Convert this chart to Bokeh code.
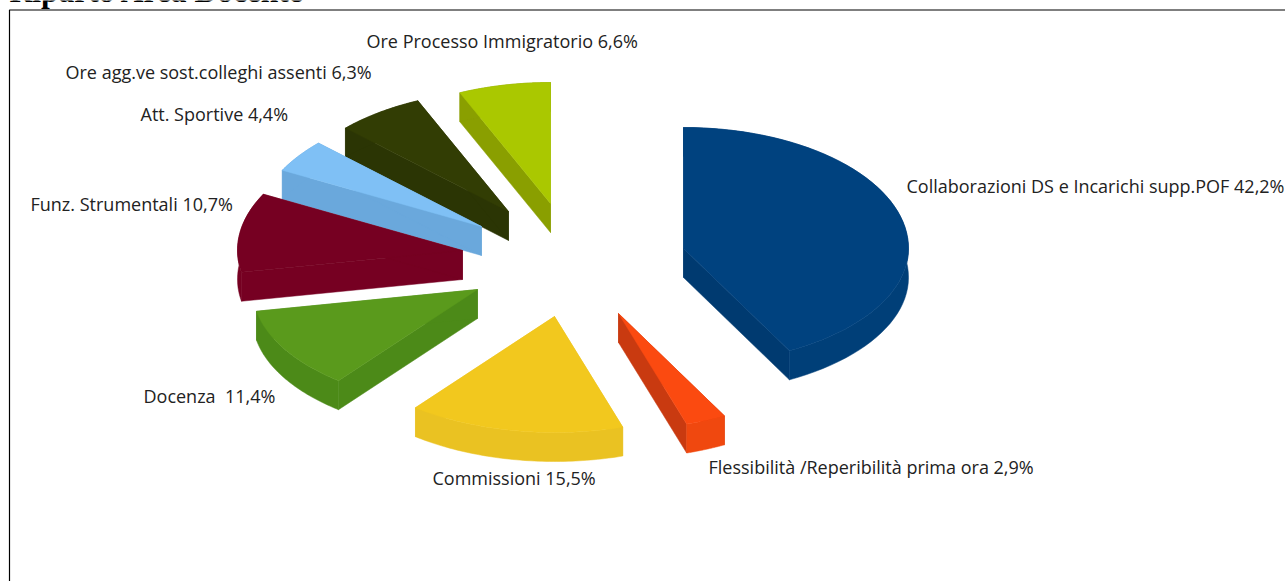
from bokeh.embed import file_html
from bokeh.resources import INLINE
from bokeh.plotting import figure
from bokeh.models import ColumnDataSource, Range1d
from bokeh.core.properties import value
import numpy as np

# ---- data
labels = ["Collaborazioni DS e Incarichi supp.POF 42,2%", "Flessibilità /Reperibilità prima ora 2,9%",
          "Commissioni 15,5%", "Docenza \u00a011,4%", "Funz. Strumentali 10,7%", "Att. Sportive 4,4%",
          "Ore agg.ve sost.colleghi assenti 6,3%", "Ore Processo Immigratorio 6,6%"]
shares = [42.2, 2.9, 15.5, 11.4, 10.7, 4.4, 6.3, 6.6]
title_text = "Riparto Area Docente"

# ---- styles
top_colors = ["#00427f", "#fb4a10", "#f2c81e", "#5a9a1c", "#760022", "#7fc0f5", "#323d04", "#aac800"]
radial_colors = ["#003a70", "#c93a10", "#e8be22", "#4c8a18", "#760022", "#6aa8dc", "#2b3504", "#8a9f00"]
arc_colors = ["#003f78", "#f0480f", "#eac222", "#4c8a18", "#760022", "#6aa8dc", "#2b3504", "#8a9f00"]

# ---- layout (page pixels)
RX, RY_BACK, RY_FRONT, DEPTH = 225, 121, 116, 29
apex_x = [683, 618, 554, 477, 462, 481, 508, 550]
apex_y = [248, 313, 316, 289, 250, 226, 211, 203]
label_x = [906, 708, 432, 143, 30, 140, 65, 366]
label_y = [185, 466, 477, 395, 203, 113, 71, 40]
paint_order = [7, 6, 5, 4, 3, 0, 1, 2]

W, H = 1285, 581
p = figure(width=W, height=H, output_backend="svg", toolbar_location=None,
           x_range=Range1d(0, W), y_range=Range1d(H, 0), min_border=0,
           x_axis_location=None, y_axis_location=None, outline_line_color=None)
p.grid.visible = False

edges = 90 - np.cumsum([0] + shares) * 3.6
xs, ys, fills = [], [], []
for i in paint_order:
    t = np.radians(np.linspace(edges[i], edges[i + 1], 60))
    ax, ay = apex_x[i], apex_y[i]
    ex = ax + RX * np.cos(t)
    s = np.sin(t)
    ey = ay - np.where(s > 0, RY_BACK, RY_FRONT) * s
    # the two radial walls, the outer wall, then the top surface
    for k in (0, -1):
        xs.append([ax, ex[k], ex[k], ax])
        ys.append([ay, ey[k], ey[k] + DEPTH, ay + DEPTH])
        fills.append(radial_colors[i])
    xs.append(list(ex) + list(ex[::-1]))
    ys.append(list(ey) + list(ey[::-1] + DEPTH))
    fills.append(arc_colors[i])
    xs.append([ax] + list(ex))
    ys.append([ay] + list(ey))
    fills.append(top_colors[i])

p.patches("xs", "ys", fill_color="fills", line_color="fills", line_width=0.5,
          source=ColumnDataSource(dict(xs=xs, ys=ys, fills=fills)))

p.text(label_x, label_y, text=labels, text_font=value("Open Sans"), text_font_size="18px",
       text_color="#222222", text_baseline="middle", text_align="left")

# frame and the heading, which the reference shows cut by the top edge
p.line([9, 9, W], [H, 9.5, 9.5], line_color="#000000", line_width=1.2)
p.text([9], [-9], text=[title_text], text_font=value("Liberation Serif"), text_font_size="31.5px",
       text_font_style="bold", text_color="#000000", text_baseline="alphabetic", text_align="left")

open("out.html", "w").write(file_html(p, INLINE))
